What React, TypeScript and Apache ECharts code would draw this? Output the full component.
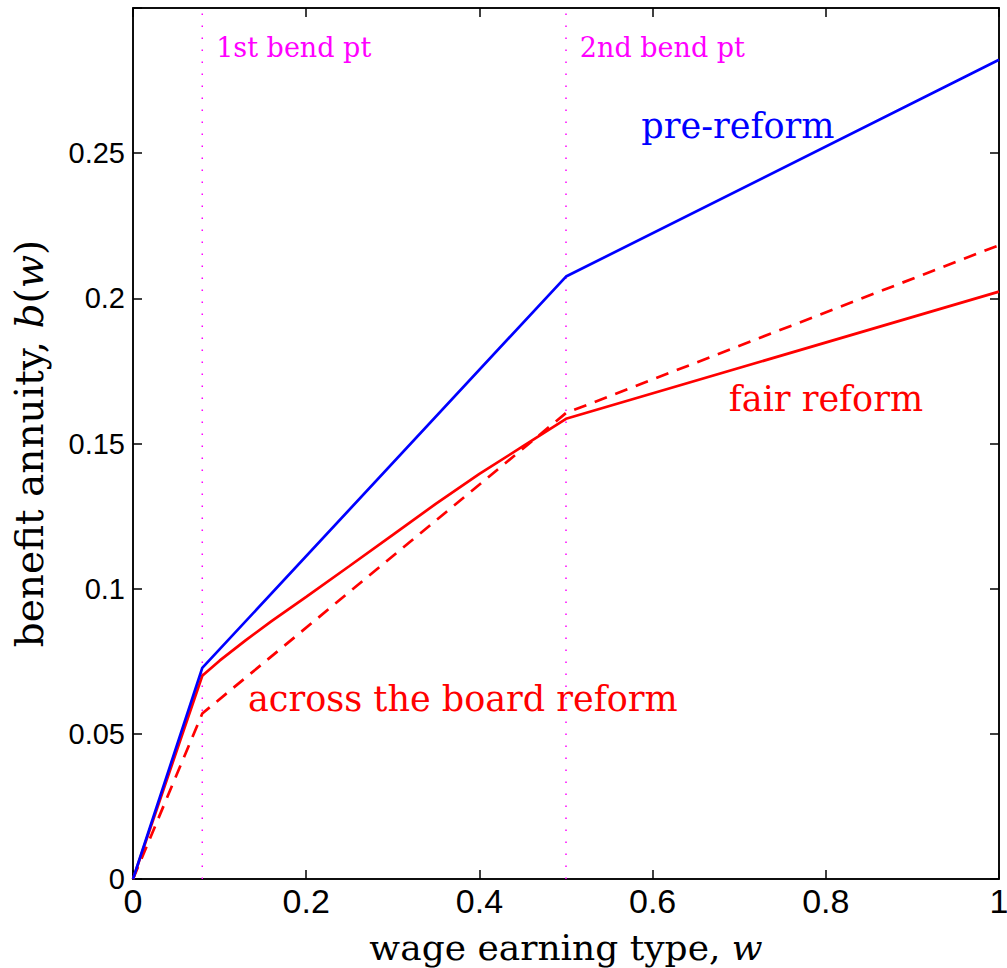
import React, { useEffect, useRef } from "react";
import * as echarts from "echarts";

// ---- data ----
const xTickValues = [0, 0.2, 0.4, 0.6, 0.8, 1];
const xTickLabels = ["0", "0.2", "0.4", "0.6", "0.8", "1"];
const yTickValues = [0, 0.05, 0.1, 0.15, 0.2, 0.25, 0.3];
const yTickLabels = ["0", "0.05", "0.1", "0.15", "0.2", "0.25", ""];

const preReformW = [0, 0.08, 0.5, 1];
const preReformB = [0, 0.0727, 0.2075, 0.2822];

const fairReformW = [0, 0.08, 0.1, 0.13, 0.16, 0.2, 0.25, 0.3, 0.35, 0.4, 0.45, 0.5, 1];
const fairReformB = [0, 0.07, 0.0752, 0.0822, 0.0888, 0.0972, 0.1078, 0.1185, 0.1293, 0.1395, 0.149, 0.1585, 0.2023];

const acrossReformW = [0, 0.08, 0.5, 1];
const acrossReformB = [0, 0.057, 0.1605, 0.2183];

const bendPoints = [0.08, 0.5];
const bendLabels = ["1st bend pt", "2nd bend pt"];

const curveLabels = ["pre-reform", "fair reform", "across the board reform"];
const curveLabelW = [0.587, 0.688, 0.1328];
const curveLabelB = [0.2594, 0.1653, 0.062];
const curveLabelColors = ["#0000ff", "#ff0000", "#ff0000"];
const bendLabelB = 0.2863;
const bendLabelOffsetW = 0.016;

const zip = (xs: number[], ys: number[]) => xs.map((x, i) => [x, ys[i]]);

const SERIF = "'DejaVu Serif', 'Liberation Serif', serif";

export default function App() {
  const ref = useRef<HTMLDivElement>(null);
  useEffect(() => {
    const chart = echarts.init(ref.current!, null, { renderer: "svg" });
    const axisLine = { show: true, onZero: false, lineStyle: { color: "#000", width: 1.5 } };
    const axisTick = { show: true, inside: true, length: 9, lineStyle: { color: "#000", width: 1.5 } };
    const option: any = {
      animation: false,
      backgroundColor: "#ffffff",
      grid: {
        left: 133, top: 8, width: 866, height: 871, show: true, borderColor: "#000", borderWidth: 1.5,
        containLabel: false, outerBoundsMode: "none",
      },
      xAxis: [
        {
          type: "value", min: 0, max: 1, interval: 0.2, position: "bottom",
          axisLine, axisTick, splitLine: { show: false },
          axisLabel: {
            formatter: (v: number) => xTickLabels[xTickValues.findIndex((t) => Math.abs(t - v) < 1e-9)] ?? "",
            fontFamily: "'Liberation Sans Narrow', 'Liberation Sans', Arial, sans-serif",
            fontSize: 34, color: "#000", margin: 5,
          },
          name: "wage earning type, {i|w}",
          nameLocation: "middle", nameGap: 50,
          nameTextStyle: {
            fontFamily: SERIF, fontSize: 36, color: "#000",
            rich: { i: { fontFamily: SERIF, fontSize: 36, fontStyle: "italic", color: "#000" } },
          },
        },
        {
          type: "value", min: 0, max: 1, interval: 0.2, position: "top",
          axisLine, axisTick, splitLine: { show: false }, axisLabel: { show: false },
        },
      ],
      yAxis: [
        {
          type: "value", min: 0, max: 0.3, interval: 0.05, position: "left",
          axisLine, axisTick, splitLine: { show: false },
          axisLabel: {
            formatter: (v: number) => yTickLabels[yTickValues.findIndex((t) => Math.abs(t - v) < 1e-9)] ?? "",
            fontFamily: "'Liberation Sans', Arial, sans-serif",
            fontSize: 29, color: "#000", margin: 8,
          },
          name: "benefit annuity, {i|b}({i|w})",
          nameLocation: "middle", nameGap: 84,
          nameTextStyle: {
            fontFamily: SERIF, fontSize: 39, color: "#000",
            rich: { i: { fontFamily: SERIF, fontSize: 39, fontStyle: "italic", color: "#000" } },
          },
        },
        {
          type: "value", min: 0, max: 0.3, interval: 0.05, position: "right",
          axisLine, axisTick, splitLine: { show: false }, axisLabel: { show: false },
        },
      ],
      series: [
        ...bendPoints.map((w) => ({
          type: "line", silent: true, symbol: "none",
          data: [[w, 0], [w, 0.3]],
          lineStyle: { color: "#ff00ff", width: 1.5, type: [1.5, 10.5] },
          z: 1,
        })),
        {
          name: "across the board reform", type: "line", symbol: "none",
          data: zip(acrossReformW, acrossReformB),
          lineStyle: { color: "#ff0000", width: 2.7, type: [13, 9] }, z: 3,
        },
        {
          name: "fair reform", type: "line", symbol: "none",
          data: zip(fairReformW, fairReformB),
          lineStyle: { color: "#ff0000", width: 2.7 }, z: 4,
        },
        {
          name: "pre-reform", type: "line", symbol: "none",
          data: zip(preReformW, preReformB),
          lineStyle: { color: "#0000ff", width: 2.7 }, z: 5,
        },
      ],
    };
    chart.setOption(option);

    const toPx = (w: number, b: number) => chart.convertToPixel({ seriesIndex: 2 }, [w, b]) as number[];
    const graphic: any[] = [];
    curveLabels.forEach((t, i) => {
      const [px, py] = toPx(curveLabelW[i], curveLabelB[i]);
      graphic.push({
        type: "text", x: px, y: py, silent: true,
        style: { text: t, fill: curveLabelColors[i], fontFamily: SERIF, fontSize: 35, align: "left", verticalAlign: "middle" },
      });
    });
    bendLabels.forEach((t, i) => {
      const [px, py] = toPx(bendPoints[i] + bendLabelOffsetW, bendLabelB);
      graphic.push({
        type: "text", x: px, y: py, silent: true,
        style: { text: t, fill: "#ff00ff", fontFamily: SERIF, fontSize: 27, align: "left", verticalAlign: "middle" },
      });
    });
    chart.setOption({ graphic });

    return () => chart.dispose();
  }, []);
  return <div ref={ref} style={{ position: "fixed", left: 0, top: 0, width: 1007, height: 968 }} />;
}
